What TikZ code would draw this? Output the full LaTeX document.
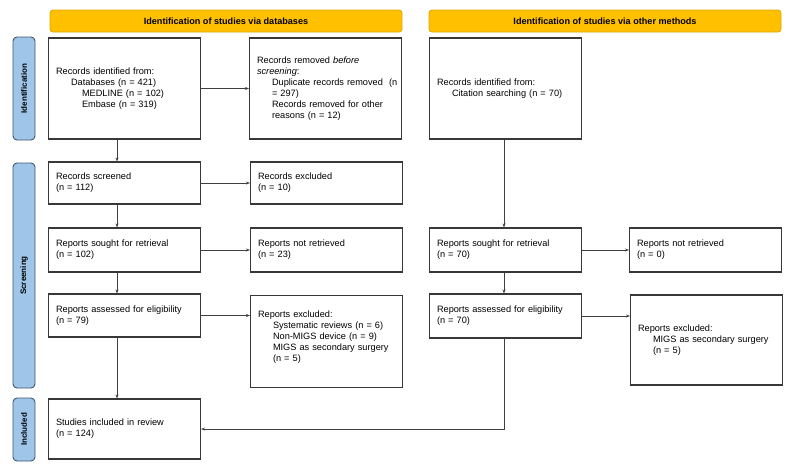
\documentclass[tikz,border=0pt]{standalone}
\usepackage{fontspec}
\setmainfont{Liberation Sans}
\usetikzlibrary{arrows.meta,calc}
\definecolor{hdrfill}{HTML}{FFC000}
\definecolor{hdrdraw}{HTML}{E0A500}
\definecolor{sidefill}{HTML}{9FC5E8}
\definecolor{sidedraw}{HTML}{3F5870}
\definecolor{boxdraw}{HTML}{383838}
\definecolor{arrowcol}{HTML}{404040}
\newcommand\indone[1]{\hspace*{15pt}\mbox{#1}}
\newcommand\indtwo[1]{\hspace*{26pt}\mbox{#1}}
\begin{document}
\begin{tikzpicture}[x=1pt,y=-1pt,
  hdr/.style={draw=hdrdraw, fill=hdrfill, rounded corners=3pt, line width=0.8pt,
    minimum width=352pt, minimum height=22pt, inner sep=0pt,
    font=\fontsize{9.1}{11}\selectfont\bfseries},
  side/.style={draw=sidedraw, fill=sidefill, rounded corners=4pt, line width=0.9pt,
    minimum height=22pt, rotate=90, inner sep=0pt,
    font=\fontsize{8}{10}\selectfont\bfseries},
  box/.style={draw=boxdraw, line width=1.1pt, text width=137pt, inner xsep=7.5pt,
    inner ysep=2pt, align=left, font=\fontsize{9.2}{11}\selectfont},
  arr/.style={draw=arrowcol, line width=0.6pt, -{Stealth[length=4pt,width=3pt]}}]
\fill[white] (0,0) rectangle (793,469);
\useasboundingbox (0,0) rectangle (793,469);

% headers
\node[hdr] (hdrA) at (226,21) {Identification of studies via databases};
\node[hdr] (hdrB) at (605,21) {Identification of studies via other methods};

% side labels
\node[side, minimum width=103pt] (sideI) at (24,88.5) {Identification};
\node[side, minimum width=225pt] (sideS) at (24,275.5) {Screening};
\node[side, minimum width=63pt] (sideN) at (24,429.5) {Included};

% boxes
\node[box, minimum height=101pt] (b1) at (124.5,88.5) {Records identified from:\\
  \indone{Databases (n = 421)}\\
  \indtwo{MEDLINE (n = 102)}\\
  \indtwo{Embase (n = 319)}};
\node[box, minimum height=101pt] (b2) at (325.5,88.5) {Records removed \textit{before}\\
  \textit{screening}:\\
  \indone{Duplicate records removed\ \ (n}\\
  \indone{= 297)}\\
  \indone{Records removed for other}\\
  \indone{reasons (n = 12)}};
\node[box, minimum height=101pt] (b3) at (505.5,88.5) {Records identified from:\\
  \indone{Citation searching (n = 70)}};

\node[box, minimum height=42pt] (screened) at (124.5,183) {Records screened\\(n = 112)};
\node[box, minimum height=42pt] (excl) at (326.5,183) {Records excluded\\(n = 10)};

\node[box, minimum height=44pt] (sought) at (124.5,250) {Reports sought for retrieval\\(n = 102)};
\node[box, minimum height=44pt] (notret) at (326.5,250) {Reports not retrieved\\(n = 23)};
\node[box, minimum height=44pt] (sought2) at (505.5,250) {Reports sought for retrieval\\(n = 70)};
\node[box, minimum height=44pt] (notret2) at (705.5,250) {Reports not retrieved\\(n = 0)};

\node[box, minimum height=43pt] (assess) at (124.5,315.5) {Reports assessed for eligibility\\(n = 79)};
\node[box, minimum height=92pt] (rexcl) at (326.5,341.5) {Reports excluded:\\
  \indone{Systematic reviews (n = 6)}\\
  \indone{Non-MIGS device (n = 9)}\\
  \indone{MIGS as secondary surgery}\\
  \indone{(n = 5)}\\
  \mbox{}};
\node[box, minimum height=44pt] (assess2) at (505.5,316) {Reports assessed for eligibility\\(n = 70)};
\node[box, minimum height=90pt] (rexcl2) at (706.5,340) {Reports excluded:\\
  \indone{MIGS as secondary surgery}\\
  \indone{(n = 5)}};

\node[box, minimum height=60pt] (incl) at (124.5,429) {Studies included in review\\(n = 124)};

% connectors
\coordinate (colA) at (117,0);
\coordinate (colB) at (504,0);
\draw[arr] (b1.south -| colA) -- (screened.north -| colA);
\draw[arr] (screened.south -| colA) -- (sought.north -| colA);
\draw[arr] (sought.south -| colA) -- (assess.north -| colA);
\draw[arr] (assess.south -| colA) -- (incl.north -| colA);

\draw[arr] (b1.east) -- (b2.west);
\draw[arr] (screened.east) -- (excl.west);
\draw[arr] (sought.east) -- (notret.west);
\draw[arr] (assess.east) -- (assess.east -| rexcl.west);

\draw[arr] (b3.south -| colB) -- (sought2.north -| colB);
\draw[arr] (sought2.south -| colB) -- (assess2.north -| colB);
\draw[arr] (sought2.east) -- (notret2.west);
\draw[arr] (assess2.east) -- (assess2.east -| rexcl2.west);
\draw[arr] (assess2.south -| colB) |- (incl.east);
\end{tikzpicture}
\end{document}
